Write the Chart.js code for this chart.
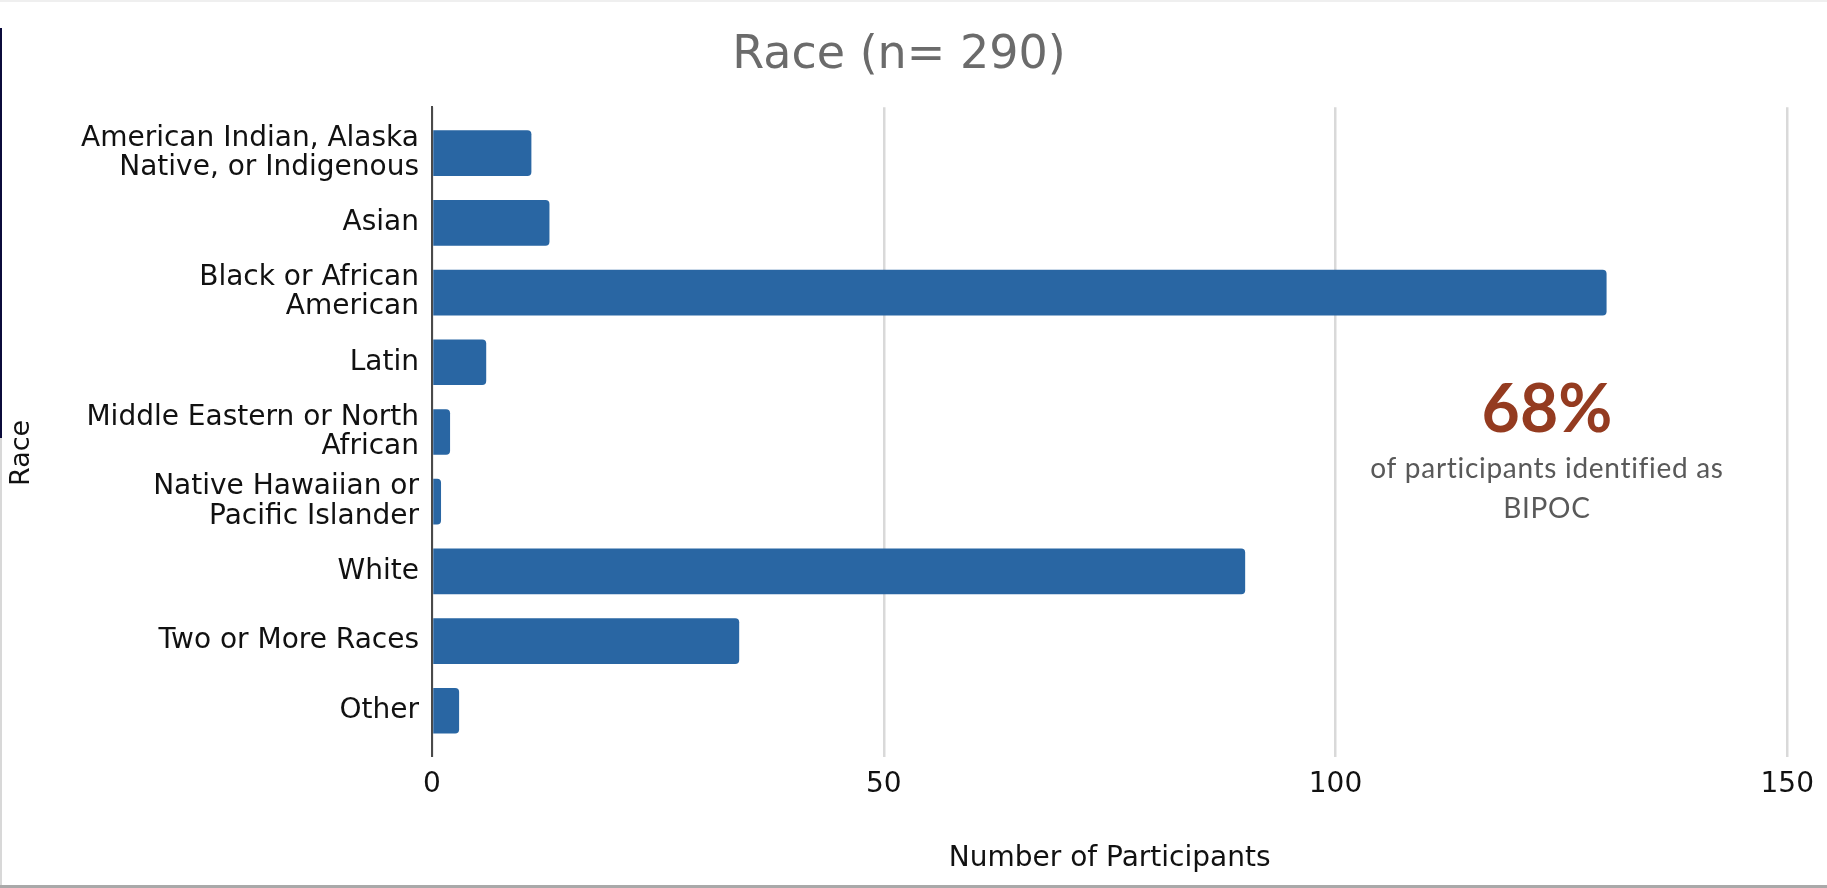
<!DOCTYPE html>
<html>
<head>
<meta charset="utf-8">
<script src="https://cdn.jsdelivr.net/npm/chart.js@4/dist/chart.umd.min.js"></script>
<style>
  html, body { margin: 0; padding: 0; background: #fff; }
  #wrap { position: relative; width: 1827px; height: 888px; overflow: hidden; }
  #edgeLeft { position: absolute; left: 0; top: 28px; width: 2px; height: 410px; background: #0b0b3b; }
  #edgeLeft2 { position: absolute; left: 0; top: 438px; width: 2px; height: 450px; background: #d8d8d8; }
  #edgeBottom { position: absolute; left: 0; bottom: 0; width: 1827px; height: 3px; background: #a9a9a9; }
  #edgeTop { position: absolute; left: 0; top: 0; width: 1827px; height: 2px; background: #efefef; }
</style>
</head>
<body>
<div id="wrap">
  <canvas id="raceChart" width="1827" height="888"></canvas>
  <div id="edgeTop"></div>
  <div id="edgeLeft"></div>
  <div id="edgeLeft2"></div>
  <div id="edgeBottom"></div>
</div>
<script>
// data
const categories = [
  ['American Indian, Alaska', 'Native, or Indigenous'],
  'Asian',
  ['Black or African', 'American'],
  'Latin',
  ['Middle Eastern or North', 'African'],
  ['Native Hawaiian or', 'Pacific Islander'],
  'White',
  'Two or More Races',
  'Other'
];
const counts = [11, 13, 130, 6, 2, 1, 90, 34, 3];
const xTicks = [0, 50, 100, 150];
const bipocShare = '68%';
const bipocText = ['of participants identified as', 'BIPOC'];

const labelFont = { family: 'DejaVu Sans', size: 28, lineHeight: 1.04 };

// 注释文字 + 纵轴标题
const notePlugin = {
  id: 'notePlugin',
  afterDraw(chart) {
    const { ctx, scales: { x, y } } = chart;
    const cx = x.getPixelForValue(123.4);
    const cy = y.getPixelForValue(4);
    ctx.save();
    ctx.textAlign = 'center';
    ctx.textBaseline = 'alphabetic';
    ctx.fillStyle = '#943b20';
    ctx.font = 'bold 66px Lato';
    ctx.fillText(bipocShare, cx, cy);
    ctx.fillStyle = '#595959';
    ctx.font = '28px Lato';
    ctx.letterSpacing = '0.7px';
    ctx.fillText(bipocText[0], cx, cy + 46);
    ctx.fillText(bipocText[1], cx, cy + 86);
    ctx.restore();

    ctx.save();
    ctx.translate(22, y.getPixelForValue(4.3));
    ctx.rotate(-Math.PI / 2);
    ctx.textAlign = 'center';
    ctx.textBaseline = 'middle';
    ctx.fillStyle = '#111';
    ctx.font = '27px "DejaVu Sans"';
    ctx.fillText('Race', 0, 0);
    ctx.restore();
  }
};

new Chart(document.getElementById('raceChart'), {
  type: 'bar',
  data: {
    datasets: [{
      data: counts.map((v, i) => ({ x: v, y: i })),
      backgroundColor: '#2966a3',
      borderRadius: 4,
      barPercentage: 0.655,
      categoryPercentage: 1
    }]
  },
  options: {
    indexAxis: 'y',
    responsive: false,
    animation: false,
    layout: { padding: { left: 8, right: 37, top: 0, bottom: 15 } },
    plugins: {
      legend: { display: false },
      tooltip: { enabled: false },
      title: {
        display: true,
        text: 'Race (n= 290)',
        color: '#6b6b6b',
        font: { family: 'DejaVu Sans', size: 46, weight: 'normal', lineHeight: 1.2 },
        padding: { top: 28, bottom: 24 }
      }
    },
    scales: {
      x: {
        type: 'linear',
        min: 0,
        max: 150,
        afterBuildTicks: s => { s.ticks = xTicks.map(v => ({ value: v })); },
        grid: { color: '#d9d9d9', lineWidth: 2.5, drawTicks: false },
        border: { display: false },
        ticks: { color: '#111', font: labelFont, padding: 13 },
        title: {
          display: true,
          text: 'Number of Participants',
          color: '#111',
          font: labelFont,
          padding: { top: 32, bottom: 0 }
        }
      },
      y: {
        type: 'linear',
        reverse: true,
        offset: false,
        min: -0.66,
        max: 8.66,
        z: 1,
        afterBuildTicks: s => { s.ticks = categories.map((_, i) => ({ value: i })); },
        afterFit: s => { s.width = 424; },
        grid: { display: false, drawTicks: false, offset: false },
        border: { display: true, color: '#4a4a4a', width: 2 },
        ticks: {
          autoSkip: false,
          color: '#111',
          font: labelFont,
          padding: 13,
          callback: v => categories[v]
        }
      }
    }
  },
  plugins: [notePlugin]
});
</script>
</body>
</html>
